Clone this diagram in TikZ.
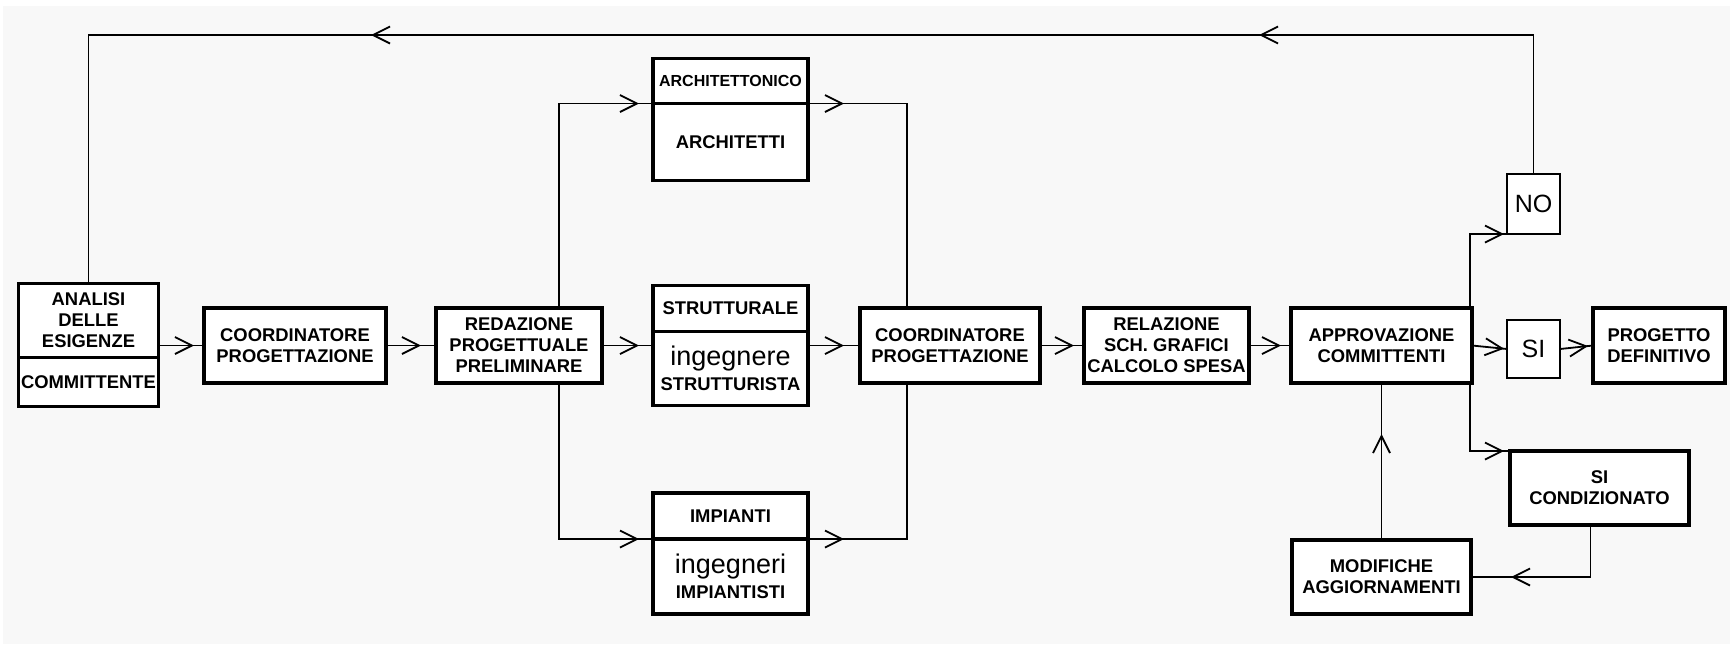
\documentclass[tikz,border=0pt]{standalone}
\usepackage{xcolor}
\usepackage{tikz}
\usepackage{fontspec}
\setmainfont{Liberation Sans}
\usetikzlibrary{positioning}
\usetikzlibrary{calc}
\usetikzlibrary{arrows.meta}
\usetikzlibrary{decorations.markings}

\definecolor{sfondo}{gray}{0.972}
\newcommand{\capsfont}{\bfseries\fontsize{9.2}{10.5}\selectfont}
\newcommand{\minifont}{\bfseries\fontsize{8}{9}\selectfont}
\newcommand{\grossofont}{\mdseries\fontsize{13.5}{13}\selectfont}
\newcommand{\sinofont}{\mdseries\fontsize{12.5}{14}\selectfont}

\begin{document}
\begin{tikzpicture}[x=0.5pt,y=-0.5pt,>={Straight Barb[length=8.5pt,width=8.5pt]},
  box/.style={draw,line width=1.6pt,fill=white,outer sep=0pt,inner sep=1pt,align=center,font=\capsfont},
  flow/.style={line width=0.9pt,postaction={decorate},
    decoration={markings,mark=at position -#1 with {\arrow{>}}}},
  flow/.default=5pt,
  outflow/.style={line width=0.9pt,postaction={decorate},
    decoration={markings,mark=at position #1 with {\arrow{>}}}},
  outflow/.default=18pt,
  back/.style={line width=0.9pt,postaction={decorate},
    decoration={markings,mark=at position 206.75pt with {\arrow{>}},mark=at position 650.75pt with {\arrow{>}}}}]
  \fill[white] (0,0) rectangle (1730,644);
  \fill[sfondo] (3,6) rectangle (1730,644);
  \useasboundingbox (0,0) rectangle (1730,644);
  \coordinate (top) at (0,35);

  \node[box,minimum width=70pt,minimum height=37pt] (analisi) at (88.5,320.5) {ANALISI\\DELLE\\ESIGENZE};
  \node[box,minimum width=70pt,minimum height=24.5pt,below=0pt of analisi] (committente) {COMMITTENTE};
  \node[box,minimum width=91pt,minimum height=37.5pt] (coord1) at (295,345.5) {COORDINATORE\\PROGETTAZIONE};
  \node[box,minimum width=83pt,minimum height=37.5pt] (redaz) at (519,345.5) {REDAZIONE\\PROGETTUALE\\PRELIMINARE};

  \node[box,font=\minifont,minimum width=77.5pt,minimum height=22.5pt] (arch) at (730.5,81) {ARCHITETTONICO};
  \node[box,minimum width=77.5pt,minimum height=38.5pt,below=0pt of arch] (archB) {ARCHITETTI};
  \node[box,minimum width=77.5pt,minimum height=23pt] (strutt) at (730.5,308.5) {STRUTTURALE};
  \node[box,minimum width=77.5pt,minimum height=37pt,below=0pt of strutt] (struttB) {\grossofont ingegnere\\[2pt]\capsfont STRUTTURISTA};
  \node[box,minimum width=77.5pt,minimum height=23pt] (imp) at (730.5,516) {IMPIANTI};
  \node[box,minimum width=77.5pt,minimum height=37.5pt,below=0pt of imp] (impB) {\grossofont ingegneri\\[2pt]\capsfont IMPIANTISTI};

  \node[box,minimum width=90pt,minimum height=37.5pt] (coord2) at (950,345.5) {COORDINATORE\\PROGETTAZIONE};
  \node[box,minimum width=82.5pt,minimum height=37.5pt] (relaz) at (1166.5,345.5) {RELAZIONE\\SCH. GRAFICI\\CALCOLO SPESA};
  \node[box,minimum width=90.5pt,minimum height=37.5pt] (approv) at (1381.5,345.5) {APPROVAZIONE\\COMMITTENTI};
  \node[box,line width=1.2pt,font=\sinofont,minimum width=26.5pt,minimum height=30pt] (no) at (1533.5,204) {NO};
  \node[box,line width=1.2pt,font=\sinofont,minimum width=26.5pt,minimum height=29pt] (si) at (1533.5,349) {SI};
  \node[box,minimum width=66pt,minimum height=37.5pt] (progetto) at (1659,345.5) {PROGETTO\\DEFINITIVO};
  \node[box,minimum width=89.5pt,minimum height=37pt] (sicond) at (1599.5,488) {SI\\CONDIZIONATO};
  \node[box,minimum width=89.5pt,minimum height=37pt] (modif) at (1381.5,577) {MODIFICHE\\AGGIORNAMENTI};

  \draw[flow] (coord1.west -| analisi.east) -- (coord1.west);
  \draw[flow=7.5pt] (coord1.east) -- (redaz.west);
  \draw[flow=7pt] (redaz.east) -- (redaz.east -| struttB.west);
  \draw[flow=7pt] ([xshift=20pt]redaz.north) |- (archB.north west);
  \draw[flow=7pt] ([xshift=20pt]redaz.south) |- (impB.north west);
  \draw[outflow] (archB.north east) -| ([xshift=-21.5pt]coord2.north);
  \draw[outflow] (coord2.west -| struttB.east) -- (coord2.west);
  \draw[outflow] (impB.north east) -| ([xshift=-21.5pt]coord2.south);
  \draw[flow] (coord2.east) -- (relaz.west);
  \draw[flow] (relaz.east) -- (approv.west);
  \draw[flow=1.5pt] (approv.east) -- (si.west);
  \draw[flow=2.5pt] (si.east) -- (progetto.west);
  \draw[flow=1.5pt] ([xshift=-1pt]approv.north east) |- (no.south west);
  \draw[flow=3pt] ([xshift=-1pt]approv.south east) |- (sicond.north west);
  \draw[flow=20pt] ([xshift=-4.5pt]sicond.south) |- (modif.east);
  \draw[outflow=53pt] (modif.north) -- (approv.south);
  \draw[back] (no.north) -- (no.north |- top) -- (analisi.north |- top) -- (analisi.north);
\end{tikzpicture}
\end{document}
